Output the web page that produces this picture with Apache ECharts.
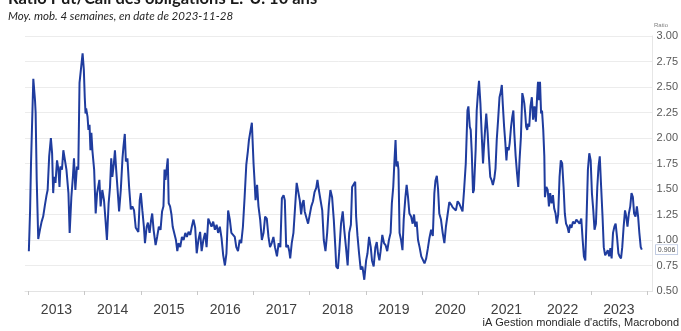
<!DOCTYPE html>
<html>
<head>
<meta charset="utf-8">
<script src="https://cdn.jsdelivr.net/npm/echarts@6/dist/echarts.min.js"></script>
<style>
  html, body { margin: 0; padding: 0; background: #ffffff; }
  #chart { width: 681px; height: 331px; }
</style>
</head>
<body>
<div id="chart"></div>
<script>
// Ratio put/call, moyenne mobile 4 semaines
const dates = [
  '2013-01-04','2013-01-12','2013-01-18','2013-02-02','2013-02-13','2013-02-17','2013-02-24','2013-03-06','2013-03-17','2013-03-28',
  '2013-04-07','2013-04-18','2013-04-29','2013-05-06','2013-05-16','2013-05-27','2013-06-04','2013-06-11','2013-06-17','2013-06-26',
  '2013-07-06','2013-07-15','2013-07-22','2013-07-28','2013-08-07','2013-08-16','2013-08-27','2013-09-05','2013-09-18','2013-09-26',
  '2013-10-07','2013-10-17','2013-10-24','2013-11-02','2013-11-12','2013-11-21','2013-11-29','2013-12-10','2013-12-19','2013-12-27',
  '2014-01-02','2014-01-07','2014-01-11','2014-01-20','2014-01-26','2014-02-02','2014-02-08','2014-02-14','2014-02-21','2014-03-04',
  '2014-03-14','2014-03-23','2014-04-07','2014-04-15','2014-04-26','2014-05-07','2014-05-15','2014-05-26','2014-06-06','2014-06-15',
  '2014-06-23','2014-06-30','2014-07-10','2014-07-17','2014-07-25','2014-08-02','2014-08-13','2014-08-24','2014-09-04','2014-09-10',
  '2014-09-19','2014-09-26','2014-10-06','2014-10-17','2014-10-28','2014-11-07','2014-11-18','2014-11-29','2014-12-09','2014-12-16',
  '2014-12-25','2015-01-01','2015-01-11','2015-01-21','2015-01-28','2015-02-08','2015-02-16','2015-02-27','2015-03-09','2015-03-16',
  '2015-03-25','2015-04-07','2015-04-17','2015-04-28','2015-05-09','2015-05-19','2015-05-28','2015-06-04','2015-06-10','2015-06-16',
  '2015-06-25','2015-07-01','2015-07-10','2015-07-19','2015-07-27','2015-08-07','2015-08-17','2015-08-26','2015-09-03','2015-09-14',
  '2015-09-25','2015-10-06','2015-10-17','2015-10-27','2015-11-07','2015-11-18','2015-11-28','2015-12-09','2015-12-20','2015-12-30',
  '2016-01-10','2016-01-21','2016-01-31','2016-02-11','2016-02-22','2016-03-03','2016-03-14','2016-03-25','2016-04-04','2016-04-15',
  '2016-04-26','2016-05-07','2016-05-17','2016-05-28','2016-06-08','2016-06-19','2016-06-30','2016-07-10','2016-07-21','2016-08-01',
  '2016-08-11','2016-08-22','2016-09-02','2016-09-12','2016-09-23','2016-10-04','2016-10-14','2016-10-25','2016-11-05','2016-11-16',
  '2016-11-26','2016-12-03','2016-12-14','2016-12-22','2017-01-02','2017-01-07','2017-01-15','2017-01-25','2017-02-03','2017-02-14',
  '2017-02-25','2017-03-08','2017-03-18','2017-03-29','2017-04-09','2017-04-19','2017-04-30','2017-05-11','2017-05-21','2017-06-03',
  '2017-06-14','2017-06-25','2017-07-05','2017-07-16','2017-07-24','2017-08-02','2017-08-13','2017-08-22','2017-08-28','2017-09-07',
  '2017-09-18','2017-09-29','2017-10-09','2017-10-18','2017-10-29','2017-11-07','2017-11-15','2017-11-23','2017-11-30','2017-12-11',
  '2017-12-22','2018-01-02','2018-01-12','2018-01-23','2018-02-02','2018-02-13','2018-02-21','2018-03-02','2018-03-13','2018-03-24',
  '2018-04-03','2018-04-14','2018-04-25','2018-05-06','2018-05-16','2018-05-27','2018-06-07','2018-06-17','2018-06-23','2018-07-04',
  '2018-07-13','2018-07-24','2018-08-04','2018-08-14','2018-08-25','2018-09-05','2018-09-15','2018-09-26','2018-10-04','2018-10-13',
  '2018-10-24','2018-10-30','2018-11-08','2018-11-18','2018-11-29','2018-12-10','2018-12-22','2019-01-03','2019-01-12','2019-01-22',
  '2019-02-02','2019-02-10','2019-02-21','2019-03-04','2019-03-13','2019-03-21','2019-03-30','2019-04-07','2019-04-18','2019-04-29',
  '2019-05-09','2019-05-20','2019-05-31','2019-06-11','2019-06-19','2019-06-28','2019-07-06','2019-07-13','2019-07-19','2019-07-26',
  '2019-08-01','2019-08-08','2019-08-18','2019-08-27','2019-09-04','2019-09-15','2019-09-23','2019-10-02','2019-10-11','2019-10-22',
  '2019-11-01','2019-11-10','2019-11-18','2019-11-27','2019-12-06','2019-12-16','2019-12-27','2020-01-07','2020-01-17','2020-01-28',
  '2020-02-08','2020-02-18','2020-02-29','2020-03-11','2020-03-21','2020-03-28','2020-04-06','2020-04-14','2020-04-22','2020-05-03',
  '2020-05-14','2020-05-25','2020-06-04','2020-06-15','2020-06-26','2020-07-07','2020-07-18','2020-07-28','2020-08-08','2020-08-19',
  '2020-08-29','2020-09-09','2020-09-20','2020-09-30','2020-10-11','2020-10-22','2020-10-28','2020-11-06','2020-11-12','2020-11-19',
  '2020-11-27','2020-12-03','2020-12-14','2020-12-21','2020-12-29','2021-01-05','2021-01-14','2021-01-22','2021-01-31','2021-02-06',
  '2021-02-12','2021-02-21','2021-03-02','2021-03-10','2021-03-19','2021-03-27','2021-04-05','2021-04-14','2021-04-22','2021-04-30',
  '2021-05-09','2021-05-18','2021-05-26','2021-06-02','2021-06-08','2021-06-17','2021-06-25','2021-07-02','2021-07-08','2021-07-17',
  '2021-07-23','2021-08-01','2021-08-09','2021-08-16','2021-08-22','2021-08-31','2021-09-09','2021-09-17','2021-09-25','2021-10-04',
  '2021-10-13','2021-10-19','2021-10-26','2021-11-01','2021-11-07','2021-11-14','2021-11-20','2021-11-27','2021-12-05','2021-12-14',
  '2021-12-22','2021-12-31','2022-01-09','2022-01-17','2022-01-23','2022-01-30','2022-02-05','2022-02-12','2022-02-18','2022-02-26',
  '2022-03-05','2022-03-09','2022-03-18','2022-03-27','2022-04-04','2022-04-12','2022-04-21','2022-04-30','2022-05-08','2022-05-17',
  '2022-05-25','2022-06-03','2022-06-12','2022-06-20','2022-06-29','2022-07-08','2022-07-16','2022-07-24','2022-08-02','2022-08-11',
  '2022-08-19','2022-08-28','2022-09-07','2022-09-18','2022-09-29','2022-10-09','2022-10-20','2022-10-31','2022-11-09','2022-11-17',
  '2022-11-26','2022-12-04','2022-12-13','2022-12-22','2022-12-31','2023-01-08','2023-01-17','2023-01-25','2023-02-03','2023-02-12',
  '2023-02-20','2023-02-28','2023-03-09','2023-03-18','2023-03-26','2023-04-04','2023-04-12','2023-04-21','2023-04-30','2023-05-08',
  '2023-05-16','2023-05-25','2023-06-03','2023-06-11','2023-06-20','2023-06-29','2023-07-07','2023-07-16','2023-07-24','2023-08-02',
  '2023-08-11','2023-08-19','2023-08-27','2023-09-05','2023-09-14','2023-09-22','2023-10-01','2023-10-09','2023-10-18','2023-10-27',
  '2023-11-04','2023-11-12','2023-11-21','2023-11-28'
];

const ratio = [
  0.89,1.29,1.75,2.58,2.37,2.25,1.59,1.01,1.10,1.18,
  1.23,1.34,1.44,1.49,1.82,2.00,1.85,1.46,1.62,1.56,
  1.78,1.69,1.52,1.72,1.69,1.88,1.88,1.69,1.46,1.07,
  1.42,1.62,1.80,1.49,1.72,1.69,2.54,2.70,2.83,2.67,
  2.40,2.24,2.29,2.21,2.08,2.13,1.88,2.05,1.87,1.69,
  1.26,1.46,1.59,1.33,1.49,1.39,1.23,1.00,1.36,1.52,
  1.80,1.62,1.75,1.88,1.69,1.52,1.28,1.49,1.80,1.91,
  2.04,1.77,1.80,1.52,1.30,1.33,1.29,1.12,1.13,1.08,
  1.39,1.46,1.29,1.13,0.97,1.13,1.17,1.07,1.20,1.26,
  1.10,0.95,1.03,1.13,1.10,1.28,1.33,1.69,1.59,1.67,
  1.80,1.36,1.33,1.25,1.13,1.12,1.00,0.89,0.97,0.93,
  1.03,1.00,1.07,1.03,1.08,1.05,1.13,1.20,1.12,0.87,
  1.00,1.08,0.89,1.00,1.07,0.93,1.21,1.20,1.13,1.18,
  1.10,1.15,1.07,1.13,1.02,0.85,0.75,0.87,1.29,1.20,
  1.07,1.08,1.03,0.93,0.89,1.00,0.97,1.13,1.42,1.74,
  1.87,1.98,2.08,2.15,1.75,1.62,1.39,1.54,1.33,1.20,
  1.00,1.07,1.23,1.21,1.03,0.93,0.97,1.03,0.93,0.84,
  0.97,0.93,1.41,1.44,1.39,0.93,0.95,0.89,0.82,0.97,
  1.07,1.33,1.56,1.57,1.39,1.25,1.36,1.39,1.28,1.29,
  1.16,1.15,1.33,1.38,1.47,1.51,1.59,1.49,1.39,1.29,
  1.00,0.89,1.07,1.34,1.49,1.42,1.20,0.93,0.74,0.72,
  0.90,1.16,1.28,1.10,0.93,0.75,1.07,1.15,1.52,1.52,
  1.57,1.23,1.04,0.87,0.71,0.74,0.61,0.80,0.87,1.03,
  0.93,0.80,0.74,0.93,0.98,0.87,0.80,0.89,1.05,0.97,
  0.95,0.89,1.00,1.07,1.36,1.52,1.78,1.98,1.72,1.77,
  1.69,1.07,1.00,0.90,1.20,1.42,1.54,1.42,1.26,1.23,
  1.16,1.25,1.13,1.18,1.00,0.93,0.84,0.85,0.77,0.82,
  0.92,1.02,1.10,1.04,1.46,1.58,1.63,1.50,1.26,1.20,
  1.07,0.97,1.13,1.25,1.37,1.35,1.32,1.32,1.29,1.38,
  1.36,1.35,1.28,1.49,1.75,2.27,2.31,2.11,2.08,1.85,
  1.46,1.49,1.88,2.27,2.44,2.56,2.34,2.05,1.75,1.91,
  2.05,2.24,2.05,1.82,1.62,1.59,1.54,1.60,1.70,1.98,
  2.18,2.40,2.45,2.52,2.34,2.11,1.95,1.78,1.91,1.88,
  1.95,2.11,2.21,2.27,2.05,1.82,1.65,1.52,1.78,2.01,
  2.44,2.40,2.34,2.24,2.11,2.08,2.14,2.11,2.31,2.40,
  2.18,2.31,2.16,2.40,2.55,2.37,2.55,2.24,2.27,2.08,
  1.82,1.42,1.52,1.49,1.33,1.46,1.36,1.44,1.31,1.26,
  1.16,1.25,1.62,1.78,1.75,1.52,1.26,1.16,1.13,1.07,
  1.15,1.12,1.18,1.16,1.20,1.21,1.16,1.21,1.00,0.84,
  0.80,1.20,1.69,1.85,1.78,1.46,1.29,1.10,1.16,1.52,
  1.72,1.82,1.52,1.23,0.93,0.85,0.87,0.90,0.84,0.92,
  0.82,1.07,1.13,1.16,1.03,0.87,0.84,0.82,0.93,1.13,
  1.29,1.23,1.13,1.26,1.33,1.46,1.42,1.26,1.23,1.33,
  1.23,1.07,0.93,0.906
];

// One tick per calendar year; year labels sit mid-year
const tickYears = [2013, 2014, 2015, 2016, 2017, 2018, 2019, 2020, 2021, 2022, 2023, 2024];
const labelYears = [2013, 2014, 2015, 2016, 2017, 2018, 2019, 2020, 2021, 2022, 2023];
const xStart = '2012-12-10';
const xEnd = '2024-02-06';

const yMin = 0.5, yMax = 3.0, yStep = 0.25;

const ts = d => Date.parse(d);
const seriesData = dates.map((d, i) => [ts(d), ratio[i]]);

const chart = echarts.init(document.getElementById('chart'), null, { renderer: 'canvas' });

chart.setOption({
  animation: false,
  backgroundColor: '#ffffff',
  grid: { left: 25, right: 22, top: 36, bottom: 40, containLabel: false },
  graphic: [
    {
      type: 'text', left: 8, top: -10,
      style: { text: 'Ratio Put/Call des obligations É.-U. 10 ans', font: 'bold 16.5px Lato', fill: '#1a1a1a' }
    },
    {
      type: 'text', left: 8, top: 10,
      style: { text: 'Moy. mob. 4 semaines, en date de 2023-11-28', font: 'italic 11.5px Lato', fill: '#262626' }
    },
    {
      type: 'text', right: 2, top: 317,
      style: { text: "iA Gestion mondiale d'actifs, Macrobond", font: '11px "Liberation Sans Narrow", "Liberation Sans"', fill: '#262626' }
    },
    {
      type: 'text', left: 654, top: 22,
      style: { text: 'Ratio', font: '6px "Liberation Sans"', fill: '#7f7f7f' }
    }
  ],
  xAxis: {
    type: 'value',
    min: ts(xStart),
    max: ts(xEnd),
    axisLine: { show: true, lineStyle: { color: '#e3e3e3', width: 1 } },
    axisTick: {
      show: true, length: 4, lineStyle: { color: '#c8c8c8' },
      customValues: tickYears.map(y => ts(y + '-01-01'))
    },
    axisLabel: {
      show: true, margin: 12, fontSize: 14, color: '#404040',
      fontFamily: '"Liberation Sans", Arial, sans-serif',
      customValues: labelYears.map(y => ts(y + '-07-02')),
      formatter: v => String(new Date(v).getUTCFullYear())
    },
    splitLine: { show: false }
  },
  yAxis: {
    type: 'value',
    position: 'right',
    min: yMin, max: yMax, interval: yStep,
    axisLine: { show: true, lineStyle: { color: '#e6e6e6' } },
    axisTick: { show: false },
    axisLabel: {
      margin: 4, fontSize: 11, color: '#595959',
      fontFamily: '"Liberation Sans", Arial, sans-serif',
      formatter: v => v.toFixed(2)
    },
    splitLine: { show: true, lineStyle: { color: '#ececec', width: 1 } }
  },
  series: [{
    type: 'line',
    data: seriesData,
    showSymbol: false,
    symbol: 'none',
    lineStyle: { color: '#1f3c9e', width: 2 },
    itemStyle: { color: '#1f3c9e' },
    endLabel: {
      show: true,
      distance: 14,
      formatter: p => p.value[1].toFixed(3),
      fontSize: 7,
      color: '#4d4d4d',
      fontFamily: '"Liberation Sans", Arial, sans-serif',
      backgroundColor: '#ffffff',
      borderColor: '#a9b8d8',
      borderWidth: 0.7,
      padding: [1, 2]
    }
  }]
});
</script>
</body>
</html>
